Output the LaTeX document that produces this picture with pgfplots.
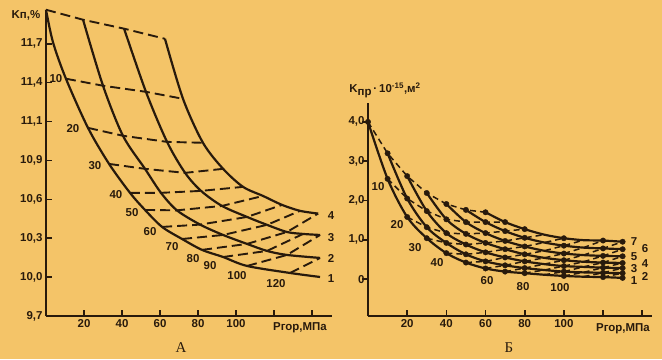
\documentclass[border=0pt]{standalone}
\usepackage{pgfplots}
\pgfplotsset{compat=1.18}
\usepackage{fontspec}
\setmainfont{Liberation Sans}
\newfontfamily\seriffont{Liberation Serif}
\definecolor{bg}{RGB}{244,196,104}
\definecolor{ink}{RGB}{40,26,12}
\newcommand\lf{\bfseries\fontsize{11.5}{12}\selectfont}
\begin{document}
\begin{tikzpicture}[x=1bp,y=1bp]
\useasboundingbox (0,0) rectangle (662,-359);
\fill[bg] (0,0) rectangle (662,-359);
\pgfplotsset{
 common/.style={scale only axis, anchor=south west, axis lines=left,
   axis line style={-, line width=2.2bp, draw=ink},
   tick style={line width=1.6bp, draw=ink}, major tick length=6bp,
   clip=false, tick align=inside,
   ticklabel style={font=\lf, text=ink}},
 crv/.style={ink, line width=2.2bp, smooth, no markers},
 iso/.style={ink, line width=1.9bp, dash pattern=on 10bp off 5bp, no markers},
 isob/.style={ink, line width=1.5bp, dash pattern=on 6bp off 4bp, no markers},
}
% ---------------- Panel A ----------------
\begin{axis}[common, at={(46bp,-316bp)}, width=286bp, height=306bp,
  xmin=0, xmax=150.5, ymin=9.7, ymax=12.06,
  xtick={20,40,60,80,100,120,140}, xticklabels={20,40,60,80,100,{},{}},
  ytick={9.7,10,10.3,10.6,10.9,11.2,11.5,11.8},
  yticklabels={{9,7},{10,0},{10,3},{10,6},{10,9},{11,1},{11,4},{11,7}}]
% solid curves 1-4
\addplot[crv] coordinates {(0,12.062) (3.7,11.81) (10.5,11.530) (22.1,11.151) (33.2,10.873) (44.2,10.650) (52.1,10.518) (61.1,10.387) (71.6,10.294) (82.1,10.210) (93.2,10.155) (105.8,10.086) (128.4,10.032) (144.2,10.001)};
\addplot[crv] coordinates {(19.5,11.985) (30.0,11.476) (40.5,11.090) (52.1,10.835) (60.5,10.650) (68.9,10.515) (81.1,10.405) (93.2,10.325) (105.8,10.256) (116.3,10.202) (126.8,10.171) (144.2,10.148)};
\addplot[crv] coordinates {(41.1,11.916) (52.6,11.429) (63.7,11.043) (73.2,10.804) (81.6,10.665) (92.6,10.549) (105.8,10.464) (116.3,10.403) (126.8,10.348) (135.3,10.333) (144.2,10.325)};
\addplot[crv] coordinates {(62.6,11.838) (72.1,11.375) (82.6,11.036) (93.2,10.835) (103.7,10.696) (114.2,10.626) (124.2,10.557) (133.7,10.511) (143.2,10.490)};
% dashed isobars
\addplot[iso] coordinates {(0,12.062) (19.5,11.985) (41.1,11.916) (62.6,11.838)};
\addplot[iso] coordinates {(10.5,11.530) (30.0,11.476) (52.6,11.429) (72.1,11.375)};
\addplot[iso] coordinates {(22.1,11.151) (40.5,11.090) (63.7,11.043) (82.6,11.036)};
\addplot[iso] coordinates {(33.2,10.873) (52.1,10.835) (73.2,10.804) (93.2,10.835)};
\addplot[iso] coordinates {(44.2,10.650) (60.5,10.650) (81.6,10.665) (103.7,10.696)};
\addplot[iso] coordinates {(52.1,10.518) (68.9,10.515) (92.6,10.549) (114.2,10.626)};
\addplot[iso] coordinates {(61.1,10.387) (81.1,10.405) (105.8,10.464) (124.2,10.557)};
\addplot[iso] coordinates {(71.6,10.294) (93.2,10.325) (116.3,10.403) (133.7,10.511)};
\addplot[iso] coordinates {(82.1,10.210) (105.8,10.256) (126.8,10.348) (143.2,10.490)};
\addplot[iso] coordinates {(93.2,10.155) (116.3,10.202) (135.3,10.333)};
\addplot[iso] coordinates {(105.8,10.086) (126.8,10.171) (144.2,10.325)};
\addplot[iso] coordinates {(128.4,10.032) (144.2,10.148)};
\end{axis}
% ---------------- Panel B ----------------
\begin{axis}[common, at={(368bp,-316bp)}, width=284bp, height=213bp,
  xmin=0, xmax=145, ymin=-0.94, ymax=4.48,
  xtick={20,40,60,80,100,120,140}, xticklabels={20,40,60,80,100,{},{}},
  ytick={0,1,2,3,4}, yticklabels={0,{1,0},{2,0},{3,0},{4,0}},
  every y tick/.append style={xshift=-6bp}]
% solid curves 1-7
\addplot[crv] coordinates {(0,4.00) (10,2.55) (20,1.58) (30,1.04) (40,0.66) (50,0.42) (60,0.27) (70,0.19) (80,0.15) (90,0.11) (100,0.08) (110,0.06) (120,0.05) (130,0.03)};
\addplot[crv] coordinates {(10,3.20) (20,2.05) (30,1.32) (40,0.92) (50,0.63) (60,0.45) (70,0.35) (80,0.28) (90,0.23) (100,0.19) (110,0.17) (120,0.16) (130,0.15)};
\addplot[crv] coordinates {(20,2.62) (30,1.73) (40,1.17) (50,0.88) (60,0.68) (70,0.55) (80,0.45) (90,0.38) (100,0.33) (110,0.31) (120,0.29) (130,0.28)};
\addplot[crv] coordinates {(30,2.19) (40,1.52) (50,1.15) (60,0.92) (70,0.76) (80,0.63) (90,0.54) (100,0.48) (110,0.44) (120,0.42) (130,0.41)};
\addplot[crv] coordinates {(40,1.91) (50,1.45) (60,1.17) (70,0.97) (80,0.83) (90,0.72) (100,0.65) (110,0.61) (120,0.59) (130,0.58)};
\addplot[crv] coordinates {(50,1.76) (60,1.45) (70,1.22) (80,1.05) (90,0.93) (100,0.85) (110,0.80) (120,0.78) (130,0.76)};
\addplot[crv] coordinates {(60,1.70) (70,1.45) (80,1.27) (90,1.13) (100,1.04) (110,0.99) (120,0.98) (130,0.95)};
% dashed isobars
\addplot[isob] coordinates {(0,4.00) (10,3.20) (20,2.62) (30,2.19) (40,1.91) (50,1.76) (60,1.70)};
\addplot[isob] coordinates {(10,2.55) (20,2.05) (30,1.73) (40,1.52) (50,1.45) (60,1.45) (70,1.45)};
\addplot[isob] coordinates {(20,1.58) (30,1.32) (40,1.17) (50,1.15) (60,1.17) (70,1.22) (80,1.27)};
\addplot[isob] coordinates {(30,1.04) (40,0.92) (50,0.88) (60,0.92) (70,0.97) (80,1.05) (90,1.13)};
\addplot[isob] coordinates {(40,0.66) (50,0.63) (60,0.68) (70,0.76) (80,0.83) (90,0.93) (100,1.04)};
\addplot[isob] coordinates {(50,0.42) (60,0.45) (70,0.55) (80,0.63) (90,0.72) (100,0.85) (110,0.99)};
\addplot[isob] coordinates {(60,0.27) (70,0.35) (80,0.45) (90,0.54) (100,0.65) (110,0.80) (120,0.98)};
\addplot[isob] coordinates {(70,0.19) (80,0.28) (90,0.38) (100,0.48) (110,0.61) (120,0.78) (130,0.95)};
\addplot[isob] coordinates {(80,0.15) (90,0.23) (100,0.33) (110,0.44) (120,0.59) (130,0.76)};
\addplot[isob] coordinates {(90,0.11) (100,0.19) (110,0.31) (120,0.42) (130,0.58)};
\addplot[isob] coordinates {(100,0.08) (110,0.17) (120,0.29) (130,0.41)};
\addplot[isob] coordinates {(110,0.06) (120,0.16) (130,0.28)};
\addplot[isob] coordinates {(120,0.05) (130,0.15)};
% dots
\addplot[only marks, mark=*, mark size=2.7bp, mark options={fill=ink, draw=ink}] coordinates {
(0,4.00) (10,2.55) (20,1.58) (30,1.04) (40,0.66) (50,0.42) (60,0.27) (70,0.19) (80,0.15) (100,0.08) (120,0.05) (130,0.03)
(10,3.20) (20,2.05) (30,1.32) (40,0.92) (50,0.63) (60,0.45) (70,0.35) (80,0.28) (100,0.19) (120,0.16) (130,0.15)
(20,2.62) (30,1.73) (40,1.17) (50,0.88) (60,0.68) (70,0.55) (80,0.45) (100,0.33) (120,0.29) (130,0.28)
(30,2.19) (40,1.52) (50,1.15) (60,0.92) (70,0.76) (80,0.63) (100,0.48) (120,0.42) (130,0.41)
(40,1.91) (50,1.45) (60,1.17) (70,0.97) (80,0.83) (100,0.65) (120,0.59) (130,0.58)
(50,1.76) (60,1.45) (70,1.22) (80,1.05) (100,0.85) (120,0.78) (130,0.76)
(60,1.70) (70,1.45) (80,1.27) (100,1.04) (120,0.98) (130,0.95)};
\end{axis}
% ---------------- texts ----------------
\begin{scope}[every node/.style={text=ink, font=\lf, inner sep=0pt}]
\node at (26,-15) {Kп,\%};
\node[anchor=base] at (300,-330) {Ргор,МПа};
\node[anchor=base] at (623,-331) {Ргор,МПа};
\node at (385,-90) {K\raisebox{-2.5bp}{пр}\,·\,10\textsuperscript{-15},м\textsuperscript{2}};
% A isobar labels
\node at (56,-79) {10};
\node at (73,-129) {20};
\node at (95,-166) {30};
\node at (116,-195) {40};
\node at (132,-213) {50};
\node at (150,-232) {60};
\node at (172,-247) {70};
\node at (193,-259) {80};
\node at (210,-266) {90};
\node at (237,-276) {100};
\node at (276,-284) {120};
\node at (331,-279) {1};
\node at (331,-258) {2};
\node at (331,-238) {3};
\node at (331,-216) {4};
% B isobar labels
\node at (378,-187) {10};
\node at (397,-225) {20};
\node at (415,-248) {30};
\node at (437,-263) {40};
\node at (487,-281) {60};
\node at (523,-287) {80};
\node at (560,-288) {100};
\node at (634,-242) {7};
\node at (645,-249) {6};
\node at (634,-257) {5};
\node at (645,-264) {4};
\node at (634,-269) {3};
\node at (645,-276) {2};
\node at (634,-281) {1};
\node[font=\seriffont\fontsize{15}{16}\selectfont] at (181,-348) {A};
\node[font=\seriffont\fontsize{15}{16}\selectfont] at (509,-348) {Б};
\end{scope}
\end{tikzpicture}
\end{document}
